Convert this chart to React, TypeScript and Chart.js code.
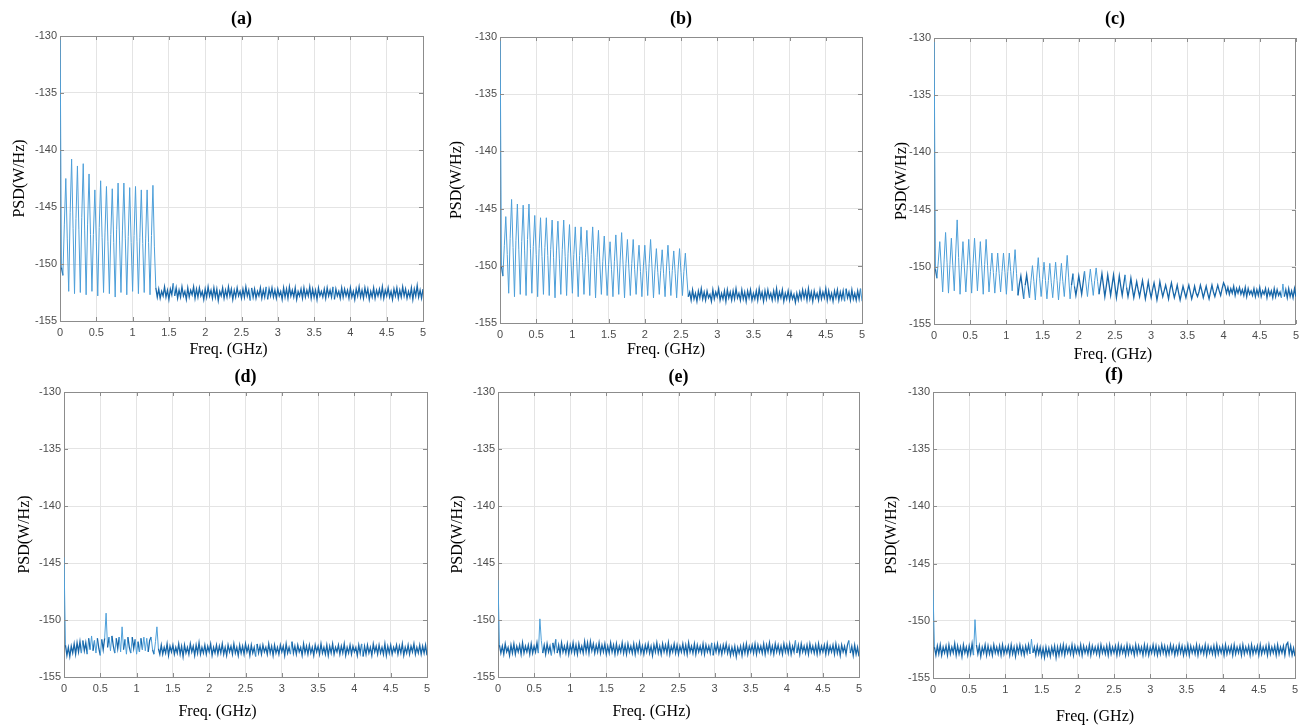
import React, { useEffect, useRef } from "react";
import { Chart, registerables } from "chart.js";

Chart.register(...registerables);

// ---------------- DATA ----------------
const FREQ_STEP_GHZ = 0.02; // PSD sampled every 0.02 GHz from 0 to 5 GHz
const X_TICKS = [0, 0.5, 1, 1.5, 2, 2.5, 3, 3.5, 4, 4.5, 5];
const Y_TICKS = [-155, -150, -145, -140, -135, -130];
const PANEL_TITLES = ["(a)", "(b)", "(c)", "(d)", "(e)", "(f)"];
const X_TITLE = "Freq. (GHz)";
const Y_TITLE = "PSD(W/Hz)";

const psdA = [
  -128, -150.3, -151.0, -146.5, -142.5, -147.8, -152.4, -145.5, -140.8, -146.9,
  -152.6, -146.0, -141.4, -147.0, -152.5, -145.9, -141.2, -147.1, -152.7, -146.5,
  -142.1, -147.4, -152.4, -147.4, -143.5, -148.0, -152.8, -146.8, -142.7, -147.7,
  -152.5, -147.2, -143.2, -148.0, -152.6, -147.4, -143.4, -148.1, -152.9, -147.0,
  -142.9, -147.9, -152.5, -147.1, -142.9, -147.8, -152.7, -147.6, -143.3, -148.1,
  -152.4, -147.5, -143.2, -148.0, -152.6, -147.7, -143.5, -148.2, -152.5, -147.8,
  -143.5, -148.1, -152.7, -147.5, -143.1, -148.5,
  -152.1, -152.9, -152.2, -153.0, -152.4, -152.8, -152.0, -152.9, -152.3, -153.1,
  -152.2, -152.7, -151.7, -152.8, -152.1, -153.0, -152.3, -152.9, -152.0, -152.8,
  -152.4, -153.1, -152.1, -152.9, -152.3, -152.7, -152.0, -153.0, -152.2, -152.9,
  -152.1, -152.8, -152.4, -153.1, -152.2, -152.9, -152.0, -152.8, -152.3, -153.0,
  -152.1, -152.9, -152.2, -153.2, -152.4, -152.8, -152.1, -153.0, -152.3, -152.9,
  -152.0, -152.8, -152.2, -153.1, -152.3, -152.9, -152.1, -152.8, -152.4, -153.0,
  -152.2, -152.9, -152.0, -152.8, -152.3, -153.2, -152.1, -152.9, -152.2, -153.0,
  -152.4, -152.8, -152.1, -153.0, -152.3, -152.9, -152.0, -153.1, -152.2, -152.8,
  -152.1, -152.9, -152.3, -153.0, -152.2, -152.8, -152.4, -153.1, -152.1, -152.9,
  -152.2, -153.0, -152.0, -152.8, -152.3, -152.9, -152.1, -153.1, -152.4, -152.8,
  -152.2, -153.0, -152.1, -152.9, -152.3, -152.8, -152.0, -153.0, -152.2, -152.9,
  -152.3, -153.1, -152.1, -152.8, -152.4, -152.9, -152.2, -153.0, -152.1, -152.8,
  -152.3, -152.9, -152.0, -153.1, -152.2, -152.8, -152.4, -153.0, -152.1, -152.9,
  -152.2, -152.8, -152.3, -153.0, -152.1, -152.9, -152.4, -153.1, -152.2, -152.8,
  -152.0, -152.9, -152.3, -153.0, -152.1, -152.8, -152.2, -153.1, -152.4, -152.9,
  -152.1, -153.0, -152.3, -152.8, -152.2, -152.9, -152.0, -153.0, -152.3, -152.8,
  -152.1, -152.9, -152.4, -153.1, -152.2, -152.8, -152.1, -153.0, -152.3, -152.9,
  -152.0, -152.8, -152.2, -153.0, -152.4, -152.9, -152.1, -153.1, -152.2, -152.8,
  -151.9, -152.9, -152.3, -153.0, -152.2,
];

const psdB = [
  -128, -150.0, -150.9, -148.2, -145.7, -149.0, -152.4, -147.6, -144.2, -148.4,
  -152.7, -147.8, -144.6, -148.6, -152.5, -147.9, -144.7, -148.7, -152.6, -147.7,
  -144.6, -148.5, -152.4, -148.3, -145.6, -149.0, -152.7, -148.5, -145.8, -149.2,
  -152.5, -148.4, -145.8, -149.1, -152.6, -148.6, -146.0, -149.3, -152.8, -148.7,
  -146.1, -149.4, -152.5, -148.6, -146.0, -149.2, -152.6, -148.9, -146.4, -149.5,
  -152.4, -149.0, -146.6, -149.6, -152.7, -149.1, -146.6, -149.7, -152.5, -149.3,
  -146.9, -149.8, -152.6, -149.0, -146.6, -149.6, -152.8, -149.3, -146.9, -149.9,
  -152.5, -149.6, -147.4, -150.1, -152.6, -149.9, -147.9, -150.3, -152.7, -149.6,
  -147.3, -150.0, -152.5, -149.5, -147.1, -149.9, -152.8, -149.8, -147.7, -150.2,
  -152.6, -149.8, -147.7, -150.3, -152.5, -150.1, -148.2, -150.5, -152.7, -150.1,
  -148.2, -150.4, -152.6, -149.8, -147.7, -150.2, -152.8, -150.3, -148.5, -150.6,
  -152.5, -150.4, -148.6, -150.7, -152.7, -150.1, -148.2, -150.4, -152.6, -150.4,
  -148.7, -150.7, -152.8, -150.3, -148.5, -150.6, -152.6, -150.5, -148.9, -150.9,
  -152.7,
  -152.3, -153.0, -152.1, -152.9, -152.4, -153.1, -152.2, -152.8, -152.0, -152.9,
  -152.3, -153.0, -152.2, -152.8, -152.5, -153.1, -152.1, -152.9, -152.3, -152.7,
  -152.0, -153.0, -152.4, -152.9, -152.2, -153.1, -152.1, -152.8, -152.3, -153.0,
  -152.2, -152.9, -152.0, -152.8, -152.4, -153.0, -152.1, -152.9, -152.3, -153.1,
  -152.2, -152.8, -152.1, -153.0, -152.4, -152.9, -152.2, -153.0, -152.0, -152.8,
  -152.3, -153.1, -152.2, -152.9, -152.1, -152.8, -152.4, -153.0, -152.2, -152.9,
  -152.0, -153.0, -152.3, -152.8, -152.1, -153.1, -152.4, -152.9, -152.2, -153.0,
  -152.3, -152.9, -152.5, -153.2, -152.4, -153.0, -152.3, -152.9, -152.1, -152.8,
  -152.2, -153.0, -152.0, -152.9, -152.3, -153.1, -152.2, -152.8, -152.4, -153.0,
  -152.1, -152.9, -152.3, -152.8, -152.0, -153.0, -152.2, -152.9, -152.4, -153.1,
  -152.2, -152.8, -152.1, -153.0, -152.3, -152.9, -152.2, -153.1, -152.0, -152.8,
  -152.3, -153.0, -152.1, -152.9, -152.4, -153.0, -152.2, -152.9, -152.0, -153.1,
];

const psdC = [
  -128, -150.2, -151.0, -149.5, -147.8, -150.0, -152.2, -149.4, -147.0, -149.6,
  -152.3, -149.8, -147.5, -149.9, -152.1, -148.8, -145.9, -149.2, -152.4, -150.0,
  -147.8, -150.1, -152.2, -149.9, -147.6, -149.9, -152.3, -149.7, -147.5, -149.8,
  -152.1, -150.0, -147.8, -150.0, -152.4, -149.8, -147.6, -149.9, -152.2, -150.4,
  -148.8, -150.5, -152.3, -150.5, -148.8, -150.6, -152.2, -150.4, -148.8, -150.5,
  -152.4, -150.4, -148.8, -150.4, -152.1, -150.3, -148.5, -150.6, -152.5, -151.5,
  -150.8, -151.8, -152.8, -151.6, -150.7, -151.7, -152.7, -151.2, -149.9, -151.3,
  -152.9, -150.9, -149.2, -151.0, -152.6, -151.1, -149.6, -151.2, -152.8, -151.2,
  -149.7, -151.4, -152.7, -151.1, -149.6, -151.2, -152.9, -151.3, -149.7, -151.3,
  -152.6, -150.8, -149.0, -150.9, -152.8, -151.6, -150.6, -151.7, -152.5, -151.7,
  -150.8, -151.6, -152.4, -151.4, -150.4, -151.5, -152.6, -151.3, -150.2, -151.4,
  -152.5, -151.2, -150.1, -151.3, -152.4, -151.5, -150.6, -151.6, -152.6, -151.7,
  -150.7, -151.6, -152.5, -151.6, -150.7, -151.7, -152.7, -151.8, -150.8, -151.7,
  -152.5, -151.6, -150.7, -151.8, -152.6, -151.9, -151.0, -151.9, -152.7, -152.0,
  -151.3, -152.0, -152.6, -151.9, -151.2, -152.0, -152.8, -152.1, -151.3, -152.1,
  -152.7, -152.0, -151.4, -152.1, -152.9, -152.2, -151.3, -152.0, -152.6, -152.1,
  -151.6, -152.2, -152.8, -152.0, -151.4, -152.1, -152.7, -152.2, -151.6, -152.3,
  -152.9, -152.3, -151.7, -152.2, -152.7, -152.1, -151.6, -152.2, -152.8, -152.3,
  -151.7, -152.3, -152.6, -152.2, -151.6, -152.1, -152.7, -152.2, -151.7, -152.3,
  -152.8, -152.2, -151.6, -152.2, -152.6, -152.1, -151.6, -152.1, -152.5, -151.9,
  -151.4,
  -151.7, -152.3, -151.8, -152.4, -151.9, -152.3, -151.7, -152.5, -151.9, -152.3,
  -151.8, -152.4, -152.0, -152.5, -151.8, -152.6, -151.9, -152.4, -152.1, -152.5,
  -151.9, -152.6, -152.0, -152.5, -151.8, -152.6, -152.1, -152.4, -151.9, -152.7,
  -152.0, -152.5, -152.1, -152.7, -151.9, -152.6, -152.0, -152.5, -152.2, -152.7,
  -151.5, -152.6, -152.0, -152.7, -151.9, -152.6, -152.1, -152.7, -151.9, -152.6,
];

const psdD = [
  -144.5, -152.2, -153.1, -152.4, -153.2, -152.3, -152.9, -152.1, -153.0, -152.0,
  -152.8, -151.9, -152.9, -151.8, -152.7, -152.0, -153.0, -151.6, -152.6, -151.4,
  -152.7, -151.8, -152.9, -151.6, -152.5, -153.1, -151.7, -152.6, -151.6, -149.4,
  -152.4, -151.5, -152.7, -151.4, -152.3, -152.9, -151.6, -152.5, -151.5, -152.8,
  -150.6, -152.6, -151.7, -153.0, -151.5, -152.4, -152.9, -151.5, -152.5, -151.7,
  -153.0, -151.9, -152.8, -151.6, -152.6, -151.5, -152.7, -151.6, -152.8, -151.8,
  -151.5, -152.6, -153.0, -151.9, -150.6, -152.5, -153.0,
  -152.2, -153.0, -152.4, -152.9, -152.1, -153.1, -152.3, -152.8, -152.2, -153.0,
  -152.4, -152.9, -152.1, -153.0, -152.3, -153.2, -152.2, -152.9, -152.4, -153.0,
  -152.1, -152.8, -152.3, -153.1, -152.2, -152.9, -152.0, -153.0, -152.4, -152.9,
  -152.2, -153.0, -152.3, -152.8, -152.1, -153.1, -152.4, -152.9, -152.2, -153.0,
  -152.3, -152.9, -152.1, -153.0, -152.4, -153.1, -152.2, -152.8, -152.3, -153.0,
  -152.1, -152.9, -152.4, -153.1, -152.2, -152.9, -152.3, -153.0, -152.1, -152.8,
  -152.3, -153.1, -152.2, -152.9, -152.4, -153.2, -152.1, -152.9, -152.3, -153.0,
  -152.2, -152.8, -152.4, -153.0, -152.1, -152.9, -152.3, -153.1, -152.2, -152.9,
  -152.4, -153.0, -152.2, -152.8, -152.3, -153.1, -152.1, -152.9, -152.4, -153.0,
  -151.9, -152.9, -152.3, -153.0, -152.2, -152.8, -152.4, -153.1, -152.1, -152.9,
  -152.3, -153.0, -152.2, -152.9, -152.4, -153.1, -152.2, -152.8, -152.3, -153.0,
  -152.1, -152.9, -152.4, -153.0, -152.2, -153.1, -152.3, -152.9, -152.1, -153.0,
  -152.4, -152.8, -152.2, -153.0, -152.3, -152.9, -152.1, -153.1, -152.4, -152.9,
  -152.2, -153.0, -152.3, -152.8, -152.4, -153.1, -152.2, -152.9, -152.1, -153.2,
  -152.3, -153.0, -152.2, -152.9, -152.4, -153.1, -152.1, -152.8, -152.3, -153.0,
  -152.2, -152.9, -152.4, -153.0, -152.1, -153.1, -152.3, -152.9, -152.2, -153.0,
  -152.4, -152.8, -152.2, -153.0, -152.3, -152.9, -152.1, -153.1, -152.4, -152.9,
  -152.2, -153.0, -152.3, -152.8, -152.1, -153.0, -152.4, -152.9, -152.2, -153.0,
  -152.3, -152.9, -152.2, -153.1,
];

const psdE = [
  -146.5,
  -152.2, -152.9, -152.3, -153.0, -152.1, -152.8, -152.4, -153.1, -152.2, -152.9,
  -152.1, -153.0, -152.3, -152.8, -152.2, -153.0, -152.0, -152.9, -152.3, -152.8,
  -152.2, -153.0, -152.1, -152.9, -152.3, -152.8, -152.0, -152.9, -149.9, -151.8,
  -152.9, -152.2, -153.0, -152.1, -152.8, -152.3, -153.1, -152.0, -152.7, -151.7,
  -152.9, -152.2, -153.0, -152.0, -152.8, -152.3, -152.9, -152.1, -153.0, -152.2,
  -152.8, -152.0, -152.9, -152.2, -153.0, -152.1, -152.8, -152.3, -152.9, -151.9,
  -152.8, -152.0, -152.9, -151.9, -152.7, -152.1, -152.9, -152.2, -152.8, -152.0,
  -152.9, -152.2, -152.8, -152.1, -153.0, -152.3, -152.9, -152.0, -152.8, -152.2,
  -153.0, -152.1, -152.9, -152.3, -152.8, -152.0, -152.9, -152.2, -153.0, -152.1,
  -152.8, -152.3, -152.9, -152.1, -153.0, -152.2, -152.8, -152.0, -152.9, -152.3,
  -153.0, -152.2, -152.8, -152.1, -152.9, -152.3, -153.1, -152.2, -152.8, -152.0,
  -152.9, -152.3, -153.0, -152.1, -152.8, -152.2, -152.9, -152.0, -153.0, -152.3,
  -152.8, -152.1, -152.9, -152.2, -153.0, -152.3, -152.8, -152.1, -152.9, -152.2,
  -153.0, -152.0, -152.8, -152.3, -152.9, -152.1, -153.0, -152.2, -152.8, -152.3,
  -152.9, -152.1, -153.0, -152.2, -152.8, -152.3, -152.9, -152.0, -153.1, -152.2,
  -152.8, -152.1, -152.9, -152.3, -153.0, -152.2, -152.8, -152.1, -152.9, -152.3,
  -153.1, -152.4, -153.0, -152.3, -153.2, -152.4, -152.9, -152.3, -153.1, -152.2,
  -152.9, -152.1, -153.0, -152.3, -152.8, -152.2, -152.9, -152.1, -153.0, -152.2,
  -152.8, -152.3, -152.9, -152.1, -153.0, -152.2, -152.8, -152.0, -152.9, -152.3,
  -153.0, -152.1, -152.8, -152.2, -152.9, -152.3, -153.0, -152.1, -152.8, -152.2,
  -152.9, -152.1, -153.0, -152.3, -152.8, -151.8, -152.9, -152.2, -153.0, -152.1,
  -152.8, -152.3, -152.9, -152.2, -153.0, -152.1, -152.8, -152.3, -152.9, -152.2,
  -153.0, -152.1, -152.9, -152.3, -152.8, -152.2, -153.0, -152.1, -152.9, -152.3,
  -152.8, -152.2, -153.0, -152.1, -152.9, -152.3, -153.1, -152.2, -152.8, -152.3,
  -153.0, -152.2, -151.8, -152.9, -152.3, -153.1, -152.2, -153.0, -152.4, -153.2,
];

const psdF = [
  -147.3,
  -152.3, -153.0, -152.2, -152.9, -152.1, -153.0, -152.3, -152.8, -152.2, -153.0,
  -152.1, -152.9, -152.3, -152.8, -152.0, -153.0, -152.2, -152.9, -152.3, -153.1,
  -152.1, -152.8, -152.3, -153.0, -152.2, -152.9, -152.0, -153.0, -149.9, -152.1,
  -152.9, -152.2, -153.1, -152.3, -152.8, -152.1, -153.0, -152.2, -152.9, -152.3,
  -153.0, -152.1, -152.8, -152.3, -152.9, -152.2, -153.0, -152.1, -152.9, -152.3,
  -152.8, -152.2, -153.0, -152.1, -152.9, -152.3, -153.1, -152.2, -152.8, -152.1,
  -152.9, -152.3, -153.0, -152.2, -152.8, -152.1, -152.9, -151.6, -152.8, -152.3,
  -153.0, -152.2, -152.9, -152.3, -153.1, -152.4, -153.2, -152.3, -153.0, -152.4,
  -153.1, -152.3, -152.9, -152.2, -153.2, -152.3, -153.0, -152.2, -152.9, -152.1,
  -153.0, -152.2, -152.8, -152.3, -152.9, -152.1, -153.0, -152.2, -152.8, -152.3,
  -152.9, -152.1, -153.0, -152.2, -152.8, -152.3, -152.9, -152.1, -153.0, -152.2,
  -152.8, -152.3, -152.9, -152.2, -153.0, -152.1, -152.8, -152.3, -152.9, -152.2,
  -153.0, -152.1, -152.9, -152.3, -152.8, -152.2, -153.0, -152.1, -152.9, -152.2,
  -152.8, -152.3, -153.0, -152.1, -152.9, -152.2, -152.8, -152.3, -153.0, -152.1,
  -152.9, -152.2, -152.8, -152.3, -153.0, -152.1, -152.9, -152.2, -153.0, -152.3,
  -152.8, -152.1, -152.9, -152.2, -153.0, -152.3, -152.9, -152.1, -152.8, -152.2,
  -153.0, -152.3, -152.9, -152.1, -152.8, -152.2, -153.0, -152.3, -152.9, -152.1,
  -152.8, -152.2, -153.0, -152.3, -152.9, -152.1, -153.0, -152.2, -152.8, -152.3,
  -152.9, -152.1, -153.0, -152.2, -152.8, -152.3, -152.9, -152.1, -153.0, -152.2,
  -152.8, -152.3, -152.9, -152.2, -153.0, -152.1, -152.9, -152.3, -152.8, -152.2,
  -153.0, -152.1, -152.9, -152.3, -152.8, -152.2, -153.0, -152.1, -152.9, -152.3,
  -152.8, -152.2, -153.0, -152.1, -152.9, -152.3, -152.8, -152.2, -153.0, -152.1,
  -152.9, -152.3, -152.8, -152.2, -153.0, -152.1, -152.9, -152.3, -152.8, -152.2,
  -153.0, -152.1, -152.9, -152.3, -152.8, -152.2, -153.0, -152.1, -152.9, -152.3,
  -152.8, -152.2, -153.0, -152.1, -151.9, -152.9, -152.2, -153.0, -152.4, -153.1,
];

const PSD_SERIES = [psdA, psdB, psdC, psdD, psdE, psdF];

// ---------------- LAYOUT (page pixels) ----------------
type Layout = {
  left: number; top: number;
  padL: number; plotW: number; padR: number;
  padT: number; plotH: number; padB: number;
  titlePadTop: number; yTitlePad: number;
  xTitleDx: number; xTitleCy: number;
};

const LAYOUTS: Layout[] = [
  { left: 0, top: 0, padL: 60, plotW: 363, padR: 12, padT: 36, plotH: 285, padB: 40, titlePadTop: 9, yTitlePad: 10.4, xTitleDx: -13, xTitleCy: 350 },
  { left: 440, top: 0, padL: 60, plotW: 362, padR: 12, padT: 37, plotH: 286, padB: 40, titlePadTop: 9, yTitlePad: 7.4, xTitleDx: -15, xTitleCy: 350 },
  { left: 874, top: 0, padL: 60, plotW: 363, padR: 7, padT: 38, plotH: 286, padB: 40, titlePadTop: 9, yTitlePad: 18.4, xTitleDx: -2, xTitleCy: 355 },
  { left: 4, top: 360, padL: 60, plotW: 363, padR: 12, padT: 32, plotH: 285, padB: 49, titlePadTop: 6.2, yTitlePad: 11.4, xTitleDx: -28, xTitleCy: 712 },
  { left: 438, top: 360, padL: 60, plotW: 361, padR: 12, padT: 32, plotH: 285, padB: 49, titlePadTop: 6.2, yTitlePad: 10.4, xTitleDx: -27, xTitleCy: 712 },
  { left: 873, top: 360, padL: 60, plotW: 362, padR: 9, padT: 32, plotH: 286, padB: 48, titlePadTop: 4.2, yTitlePad: 9.4, xTitleDx: -19, xTitleCy: 717 },
];

const SERIF = "'Liberation Serif', 'Times New Roman', serif";
const SANS = "'Liberation Sans', Arial, sans-serif";
const LINE_DARK = "#1766a8";
const LINE_LIGHT = "#4d9fd9";
const GRID_COLOR = "#e4e4e4";
const BOX_COLOR = "#8c8c8c";
const TITLE_FONT_SIZE = 18;
const AXIS_FONT_SIZE = 16;

const fmt = (v: number) => String(Number(Number(v).toFixed(2)));
const isSteep = (c: any) => Math.abs(c.p1.parsed.y - c.p0.parsed.y) > 1.0;

// Inward MATLAB-style ticks on all four sides + the x-axis caption
const axisDecor = {
  id: "axisDecor",
  afterDraw(chart: any, _args: any, opts: any) {
    const { ctx, chartArea: a, scales } = chart;
    const x = scales.x;
    const y = scales.y;
    ctx.save();
    ctx.strokeStyle = BOX_COLOR;
    ctx.lineWidth = 1;
    ctx.beginPath();
    for (const v of X_TICKS) {
      const px = Math.round(x.getPixelForValue(v)) + 0.5;
      ctx.moveTo(px, a.bottom);
      ctx.lineTo(px, a.bottom - 4);
      ctx.moveTo(px, a.top);
      ctx.lineTo(px, a.top + 4);
    }
    for (const v of Y_TICKS) {
      const py = Math.round(y.getPixelForValue(v)) + 0.5;
      ctx.moveTo(a.left, py);
      ctx.lineTo(a.left + 4, py);
      ctx.moveTo(a.right, py);
      ctx.lineTo(a.right - 4, py);
    }
    ctx.stroke();
    ctx.fillStyle = "#000";
    ctx.font = `${AXIS_FONT_SIZE}px ${SERIF}`;
    ctx.textAlign = "center";
    ctx.textBaseline = "middle";
    ctx.fillText(opts.text, (a.left + a.right) / 2 + opts.dx, opts.cy);
    ctx.restore();
  },
};

function Panel({ idx }: { idx: number }) {
  const ref = useRef<HTMLCanvasElement>(null);
  const L = LAYOUTS[idx];
  const w = L.padL + L.plotW + L.padR;
  const h = L.padT + L.plotH + L.padB;

  useEffect(() => {
    const series = PSD_SERIES[idx];
    const points = series.map((v, i) => ({ x: Number((i * FREQ_STEP_GHZ).toFixed(2)), y: v }));
    const titleLH = TITLE_FONT_SIZE * 1.2;
    const chart = new Chart(ref.current as HTMLCanvasElement, {
      type: "line",
      data: {
        datasets: [
          {
            label: "PSD",
            data: points,
            borderColor: LINE_DARK,
            borderWidth: 1.2,
            pointRadius: 0,
            tension: 0,
            fill: false,
            segment: {
              borderColor: (c: any) => (isSteep(c) ? LINE_LIGHT : LINE_DARK),
              borderWidth: (c: any) => (isSteep(c) ? 1 : 1.3),
            },
          },
        ],
      },
      options: {
        animation: false,
        responsive: false,
        devicePixelRatio: 1,
        events: [],
        layout: { padding: { left: 0, top: 0, bottom: 0, right: L.padR } },
        plugins: {
          legend: { display: false },
          tooltip: { enabled: false },
          title: {
            display: true,
            text: PANEL_TITLES[idx],
            fullSize: false,
            color: "#000",
            font: { family: SERIF, size: TITLE_FONT_SIZE, weight: "bold", lineHeight: 1.2 },
            padding: { top: L.titlePadTop, bottom: Math.max(0, L.padT - titleLH - L.titlePadTop) },
          },
          axisDecor: { text: X_TITLE, dx: L.xTitleDx, cy: L.xTitleCy - L.top },
        },
        scales: {
          x: {
            type: "linear",
            min: 0,
            max: 5,
            afterBuildTicks: (s: any) => {
              s.ticks = X_TICKS.map((v) => ({ value: v }));
            },
            afterFit: (s: any) => {
              s.height = L.padB;
            },
            ticks: {
              callback: (v: any) => fmt(v),
              color: "#4d4d4d",
              font: { family: SANS, size: 11 },
              padding: 5,
              maxRotation: 0,
              autoSkip: false,
            },
            grid: {
              color: (c: any) => (c.tick && c.tick.value === 5 ? BOX_COLOR : GRID_COLOR),
              drawTicks: false,
              lineWidth: 1,
            },
            border: { display: true, color: BOX_COLOR, width: 1 },
            title: { display: false, text: X_TITLE },
          },
          y: {
            type: "linear",
            min: -155,
            max: -130,
            afterBuildTicks: (s: any) => {
              s.ticks = Y_TICKS.map((v) => ({ value: v }));
            },
            afterFit: (s: any) => {
              s.width = L.padL;
            },
            ticks: {
              callback: (v: any) => fmt(v),
              color: "#4d4d4d",
              font: { family: SANS, size: 11 },
              padding: 3,
              autoSkip: false,
            },
            grid: {
              color: (c: any) => (c.tick && c.tick.value === -130 ? BOX_COLOR : GRID_COLOR),
              drawTicks: false,
              lineWidth: 1,
            },
            border: { display: true, color: BOX_COLOR, width: 1 },
            title: {
              display: true,
              text: Y_TITLE,
              color: "#000",
              font: { family: SERIF, size: AXIS_FONT_SIZE, lineHeight: 1.2 },
              padding: { top: L.yTitlePad, bottom: 0 },
            },
          },
        },
      },
      plugins: [axisDecor],
    } as any);
    return () => chart.destroy();
  }, [idx]);

  return (
    <div style={{ position: "absolute", left: L.left, top: L.top, width: w, height: h }}>
      <canvas ref={ref} width={w} height={h} style={{ display: "block", width: w, height: h }} />
    </div>
  );
}

export default function App() {
  return (
    <div
      style={{
        position: "absolute",
        left: 0,
        top: 0,
        width: 1304,
        height: 726,
        background: "#ffffff",
        overflow: "hidden",
      }}
    >
      {PANEL_TITLES.map((_, i) => (
        <Panel key={i} idx={i} />
      ))}
    </div>
  );
}
